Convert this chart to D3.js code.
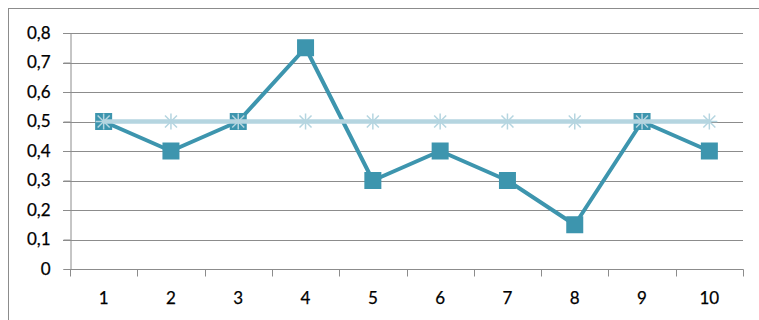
<!DOCTYPE html>
<html>
<head>
<meta charset="utf-8">
<script src="https://cdn.jsdelivr.net/npm/d3@7"></script>
<style>
  html, body { margin: 0; padding: 0; background: #fff; }
  svg { display: block; }
  text { font-family: "Lato", "Open Sans", sans-serif; font-size: 17px; fill: #000; }
</style>
</head>
<body>
<svg id="chart" width="759" height="320"></svg>
<script>
// Category labels along the x axis
const categories = ["1", "2", "3", "4", "5", "6", "7", "8", "9", "10"];
// Measured values (square markers)
const measured = [0.5, 0.4, 0.5, 0.75, 0.3, 0.4, 0.3, 0.15, 0.5, 0.4];
// Reference level (asterisk markers)
const reference = [0.5, 0.5, 0.5, 0.5, 0.5, 0.5, 0.5, 0.5, 0.5, 0.5];
// Y tick values
const yTicks = [0, 0.1, 0.2, 0.3, 0.4, 0.5, 0.6, 0.7, 0.8];

const svg = d3.select("#chart");
const W = 759, H = 320;
const plot = { left: 70, right: 743, top: 33, bottom: 269 };
const FONT = "Lato, 'Open Sans', sans-serif";

// Outer frame
svg.append("rect")
  .attr("x", 8.5).attr("y", 8.5)
  .attr("width", W).attr("height", H)
  .attr("fill", "none").attr("stroke", "#8c8c8c").attr("stroke-width", 1);

const x = d3.scaleBand().domain(categories).range([plot.left, plot.right]).padding(0);
const y = d3.scaleLinear().domain([0, 0.8]).range([plot.bottom, plot.top]);

const fmt = d => d === 0 ? "0" : d3.format(".1f")(d).replace(".", ",");

// Horizontal gridlines
svg.append("g")
  .selectAll("line")
  .data(yTicks.filter(d => d > 0))
  .join("line")
  .attr("x1", plot.left - 7).attr("x2", plot.right)
  .attr("y1", d => Math.round(y(d)) + 0.5).attr("y2", d => Math.round(y(d)) + 0.5)
  .attr("stroke", "#8c8c8c").attr("stroke-width", 1);

// Y axis
const yAxis = svg.append("g")
  .attr("transform", `translate(${plot.left + 0.5},0)`)
  .call(d3.axisLeft(y).tickValues(yTicks).tickFormat(fmt).tickSize(7).tickPadding(13));
yAxis.select(".domain").attr("stroke", "#8c8c8c");
yAxis.selectAll(".tick line").attr("stroke", "#8c8c8c");
yAxis.selectAll("text")
  .style("font-family", FONT).style("font-size", "17px")
  .attr("fill", "#000").attr("stroke", "#000").attr("stroke-width", 0.25);

// X axis with ticks on band boundaries
const xAxisG = svg.append("g").attr("transform", `translate(0,${plot.bottom + 0.5})`);
xAxisG.append("line")
  .attr("x1", plot.left).attr("x2", plot.right + 0.5)
  .attr("stroke", "#8c8c8c");
const boundaries = categories.map(c => x(c)).concat([x(categories[categories.length - 1]) + x.bandwidth()]);
xAxisG.selectAll("line.tk")
  .data(boundaries)
  .join("line").attr("class", "tk")
  .attr("x1", d => Math.round(d) + 0.5).attr("x2", d => Math.round(d) + 0.5)
  .attr("y1", 0).attr("y2", 7)
  .attr("stroke", "#8c8c8c");
xAxisG.selectAll("text")
  .data(categories)
  .join("text")
  .attr("x", d => x(d) + x.bandwidth() / 2)
  .attr("y", 34)
  .attr("text-anchor", "middle")
  .attr("stroke", "#000").attr("stroke-width", 0.25)
  .text(d => d);

const cx = (d, i) => x(categories[i]) + x.bandwidth() / 2;
const line = d3.line().x(cx).y(d => y(d));

// Measured series
const dark = "#3d95ae";
svg.append("path").datum(measured)
  .attr("d", line).attr("fill", "none")
  .attr("stroke", dark).attr("stroke-width", 4).attr("stroke-linejoin", "round");
svg.append("g").selectAll("rect")
  .data(measured)
  .join("rect")
  .attr("x", (d, i) => cx(d, i) - 8.5).attr("y", d => y(d) - 8.5)
  .attr("width", 17).attr("height", 17)
  .attr("fill", dark);

// Reference series
const light = "#b5d5e0";
svg.append("path").datum(reference)
  .attr("d", line).attr("fill", "none")
  .attr("stroke", light).attr("stroke-width", 4.5);
const star = svg.append("g").selectAll("g")
  .data(reference)
  .join("g")
  .attr("transform", (d, i) => `translate(${cx(d, i)},${y(d)})`);
[[-8, 0, 8, 0], [0, -8, 0, 8], [-6, -6, 6, 6], [-6, 6, 6, -6]].forEach(s => {
  star.append("line")
    .attr("x1", s[0]).attr("y1", s[1]).attr("x2", s[2]).attr("y2", s[3])
    .attr("stroke", light).attr("stroke-width", 1.5);
});
</script>
</body>
</html>
